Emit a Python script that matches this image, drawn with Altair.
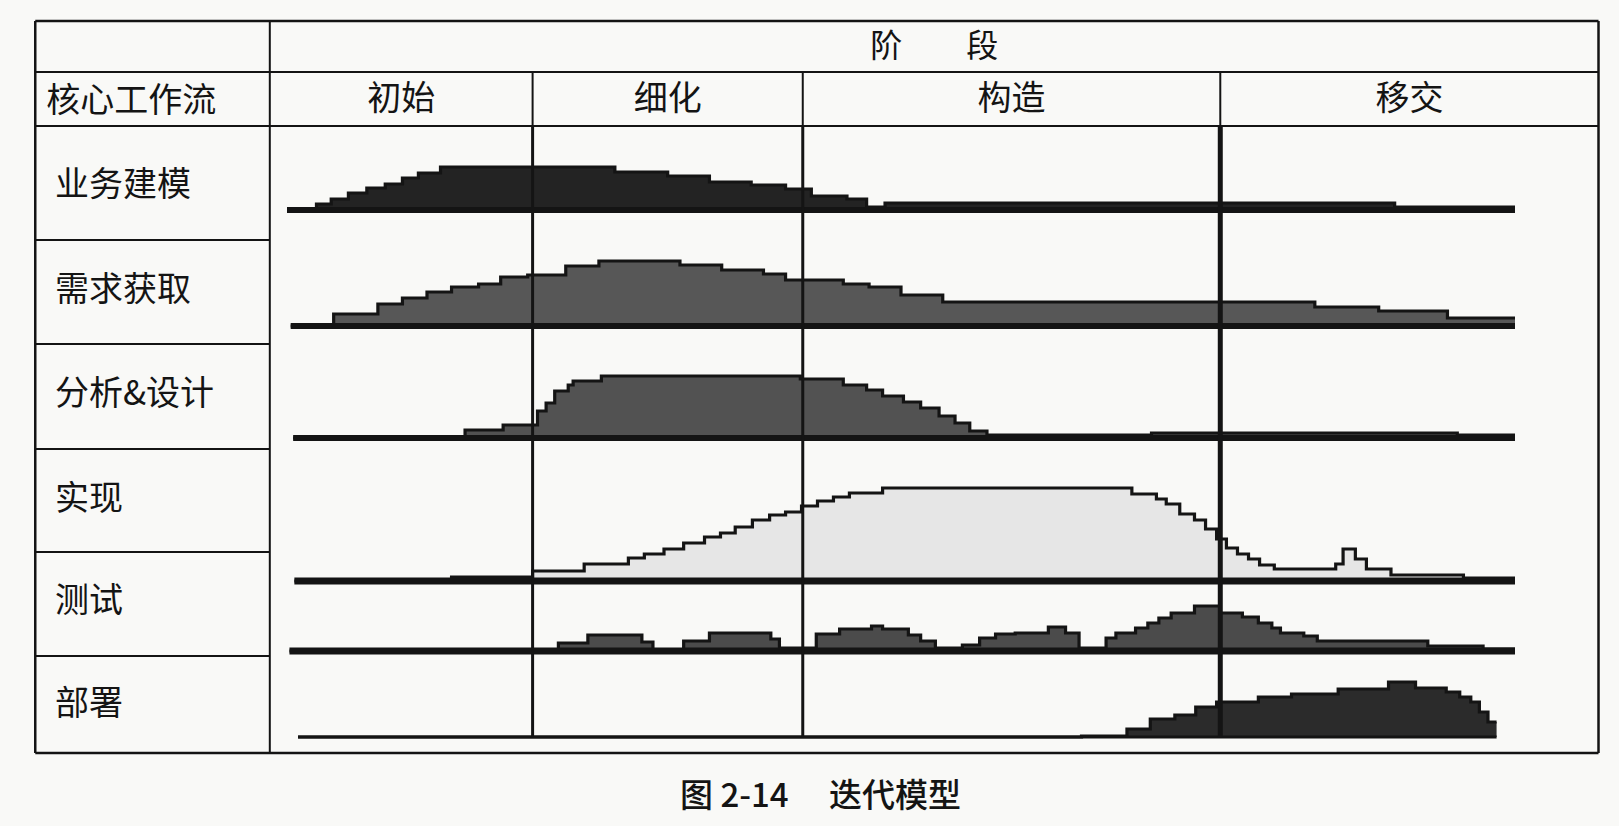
import altair as alt
import pandas as pd

# ---------------------------------------------------------------- data
WORKFLOWS = ["业务建模", "需求获取", "分析&设计", "实现", "测试", "部署"]
PHASES = ["初始", "细化", "构造", "移交"]
PHASE_ENDS = [20, 42, 76]          # time at which a phase hands over to the next
CAPTION = "图 2-14\u3000 迭代模型"

# step profiles: start time of every step and the effort held from there on
BIZ_T = [0.0, 2.4, 3.6, 5.0, 6.5, 8.0, 9.4, 10.7, 12.5, 26.7, 31.0, 34.4, 37.8,
         40.6, 42.7, 45.6, 47.2, 48.7, 90.2, 100.0]
BIZ_H = [0, 6, 11, 17, 22, 26, 32, 37, 43, 38, 34, 28, 25, 21, 14, 11, 3, 7, 3, 3]

REQ_T = [0.3, 3.8, 7.4, 9.4, 11.4, 13.4, 15.6, 17.4, 19.6, 22.7, 25.4, 32.0, 35.4,
         38.8, 40.6, 45.3, 47.4, 50.0, 53.4, 83.7, 88.9, 94.5, 100.0]
REQ_H = [0, 12, 22, 28, 34, 39, 42, 49, 51, 60, 65, 61, 56, 52, 46, 42, 39, 31, 24,
         19, 15, 8, 8]

ANA_T = [0.5, 14.5, 17.6, 20.4, 21.1, 21.8, 22.9, 23.3, 25.6, 41.8, 45.3, 47.2,
         48.5, 50.2, 51.6, 53.1, 54.4, 55.6, 57.0, 70.4, 95.3, 100.0]
ANA_H = [0, 8, 13, 27, 35, 47, 53, 57, 62, 59, 53, 48, 42, 36, 30, 22, 15, 7, 3, 5,
         3, 3]

IMP_T = [0.6, 13.4, 20.0, 24.2, 27.8, 29.1, 30.7, 32.3, 34.0, 35.3, 36.5, 37.9,
         39.3, 40.6, 41.9, 43.2, 44.5, 45.8, 48.5, 68.8, 70.8, 71.6, 72.7, 73.9,
         74.8, 75.7, 76.5, 77.4, 78.3, 79.2, 80.4, 85.4, 86.0, 87.0, 87.9, 89.9,
         95.8, 100.0]
IMP_H = [0, 4, 10, 17, 23, 27, 32, 38, 44, 48, 54, 61, 66, 69, 75, 80, 84, 88, 93,
         87, 82, 77, 67, 61, 52, 42, 33, 27, 22, 16, 12, 17, 32, 22, 12, 6, 3, 3]

TST_T = [0.2, 22.1, 24.5, 28.9, 29.8, 32.3, 34.4, 39.4, 40.1, 43.1, 45.0, 47.6,
         48.5, 50.6, 51.6, 52.8, 55.0, 56.4, 57.7, 59.3, 62.0, 63.4, 64.5, 66.7,
         67.5, 69.1, 70.1, 71.0, 72.0, 73.9, 76.0, 77.8, 79.1, 80.2, 80.9, 82.8,
         83.9, 92.9, 97.4, 100.0]
TST_H = [0, 8, 16, 9, 0, 10, 18, 12, 3, 17, 22, 25, 22, 16, 10, 3, 6, 13, 17, 18,
         24, 18, 3, 13, 18, 23, 28, 33, 38, 45, 38, 34, 28, 23, 18, 15, 10, 5, 2, 2]

DEP_T = [0.9, 64.7, 68.4, 70.3, 72.3, 74.0, 75.7, 79.1, 81.8, 85.6, 89.7, 91.9,
         94.4, 95.5, 96.4, 97.1, 97.8, 98.5]
DEP_H = [0, 1, 8, 18, 22, 30, 35, 40, 43, 48, 55, 49, 45, 40, 35, 25, 15, 15]

PROFILES = {
    "业务建模": (BIZ_T, BIZ_H),
    "需求获取": (REQ_T, REQ_H),
    "分析&设计": (ANA_T, ANA_H),
    "实现": (IMP_T, IMP_H),
    "测试": (TST_T, TST_H),
    "部署": (DEP_T, DEP_H),
}

# ---------------------------------------------------------------- layout
W, H = 1619, 826
PX_PER_T = 12.28
T_ORIGIN_PX = 287
X_DOMAIN = [-T_ORIGIN_PX / PX_PER_T, (W - T_ORIGIN_PX) / PX_PER_T]

T_LEFT, T_DIVIDER, T_RIGHT = -20.5, -1.4, 106.8
Y_TOP, Y_HEAD, Y_PHASE, Y_BOTTOM = 21, 72, 126, 753
ROW_BASE = [210, 326, 438, 581, 651, 737]
ROW_SEP = [240, 344, 449, 552, 656]
LABEL_Y = [186, 291, 395, 500, 602, 705]
BASE_WIDTH = [6, 6, 6, 7, 7, 3]
FILLS = ["#232323", "#575757", "#525252", "#e6e6e6", "#4b4b4b", "#2b2b2b"]
INK = "#141414"
FONT = "Noto Sans CJK SC"

xs = alt.Scale(domain=X_DOMAIN, nice=False, zero=False)
ys = alt.Scale(domain=[0, H], nice=False, zero=False, reverse=True)

# ---------------------------------------------------------------- tables
prof_rows, base_rows = [], []
for wf, base, bw in zip(WORKFLOWS, ROW_BASE, BASE_WIDTH):
    ts, hs = PROFILES[wf]
    for t, h in zip(ts, hs):
        prof_rows.append({"wf": wf, "t": t, "top": base - h, "base": base})
    base_rows.append({"x0": ts[0], "x1": ts[-1], "y": base, "sw": bw})
prof = pd.DataFrame(prof_rows)
baselines = pd.DataFrame(base_rows)

hlines = [
    {"x0": T_LEFT, "x1": T_RIGHT, "y": Y_TOP, "sw": 2.5},
    {"x0": T_LEFT, "x1": T_RIGHT, "y": Y_HEAD, "sw": 2},
    {"x0": T_LEFT, "x1": T_RIGHT, "y": Y_PHASE, "sw": 2},
    {"x0": T_LEFT, "x1": T_RIGHT, "y": Y_BOTTOM, "sw": 2.5},
] + [{"x0": T_LEFT, "x1": T_DIVIDER, "y": y, "sw": 2} for y in ROW_SEP]
hlines = pd.DataFrame(hlines)

vlines = [
    {"x": T_LEFT, "y0": Y_TOP, "y1": Y_BOTTOM, "sw": 2.5},
    {"x": T_DIVIDER, "y0": Y_TOP, "y1": Y_BOTTOM, "sw": 2},
    {"x": T_RIGHT, "y0": Y_TOP, "y1": Y_BOTTOM, "sw": 2.5},
]
for t, sw in zip(PHASE_ENDS, [3, 3, 5]):
    vlines.append({"x": t, "y0": Y_HEAD, "y1": Y_PHASE, "sw": 2})
    vlines.append({"x": t, "y0": Y_PHASE, "y1": ROW_BASE[-1], "sw": sw})
vlines = pd.DataFrame(vlines)

col_edges = [T_DIVIDER] + PHASE_ENDS + [T_RIGHT]
centered = [{"text": "阶\u3000\u3000段", "x": (T_DIVIDER + T_RIGHT) / 2,
             "y": (Y_TOP + Y_HEAD) / 2, "size": 32}]
centered += [{"text": p, "x": (col_edges[i] + col_edges[i + 1]) / 2,
              "y": (Y_HEAD + Y_PHASE) / 2 + 1, "size": 34}
             for i, p in enumerate(PHASES)]
centered = pd.DataFrame(centered)

caption = pd.DataFrame([{"text": CAPTION, "x": (T_LEFT + T_RIGHT) / 2 + 0.3,
                         "y": 797, "size": 33}])

lefts = [{"text": "核心工作流", "x": T_LEFT + 0.9, "y": (Y_HEAD + Y_PHASE) / 2 + 3, "size": 34}]
lefts += [{"text": wf, "x": T_LEFT + 1.6, "y": y, "size": 34}
          for wf, y in zip(WORKFLOWS, LABEL_Y)]
lefts = pd.DataFrame(lefts)

# ---------------------------------------------------------------- marks
X = lambda f: alt.X(f, type="quantitative", scale=xs, axis=None)
Y = lambda f: alt.Y(f, type="quantitative", scale=ys, axis=None, stack=None)
SIZE = alt.Size("size:Q", scale=None)

fill = alt.Color("wf:N", scale=alt.Scale(domain=WORKFLOWS, range=FILLS), legend=None)

areas = alt.Chart(prof).mark_area(interpolate="step-after", opacity=1).encode(
    x=X("t"), y=Y("top"), y2="base:Q", color=fill, detail="wf:N"
)
outline = alt.Chart(prof).mark_line(interpolate="step-after", strokeWidth=3.2,
                                    color=INK).encode(
    x=X("t"), y=Y("top"), detail="wf:N"
)
base_rules = alt.Chart(baselines).mark_rule(color=INK, strokeCap="butt").encode(
    x=X("x0"), x2="x1:Q", y=Y("y"), strokeWidth=alt.StrokeWidth("sw:Q", scale=None)
)
h_rules = alt.Chart(hlines).mark_rule(color=INK).encode(
    x=X("x0"), x2="x1:Q", y=Y("y"), strokeWidth=alt.StrokeWidth("sw:Q", scale=None)
)
v_rules = alt.Chart(vlines).mark_rule(color=INK).encode(
    x=X("x"), y=Y("y0"), y2="y1:Q", strokeWidth=alt.StrokeWidth("sw:Q", scale=None)
)
text_c = alt.Chart(centered).mark_text(align="center", baseline="middle",
                                       font=FONT, color=INK).encode(
    x=X("x"), y=Y("y"), text="text:N", size=SIZE
)
text_cap = alt.Chart(caption).mark_text(align="center", baseline="middle",
                                        font=FONT, fontWeight=500, color=INK).encode(
    x=X("x"), y=Y("y"), text="text:N", size=SIZE
)
text_l = alt.Chart(lefts).mark_text(align="left", baseline="middle",
                                    font=FONT, color=INK).encode(
    x=X("x"), y=Y("y"), text="text:N", size=SIZE
)

chart = alt.layer(areas, outline, base_rules, v_rules, h_rules,
                  text_c, text_cap, text_l).properties(
    width=W, height=H, padding=0,
    autosize=alt.AutoSizeParams(type="none"),
    background="#f9f9f7",
).configure_view(stroke=None)

chart.save("out.html", embed_options={"renderer": "svg", "actions": False})
